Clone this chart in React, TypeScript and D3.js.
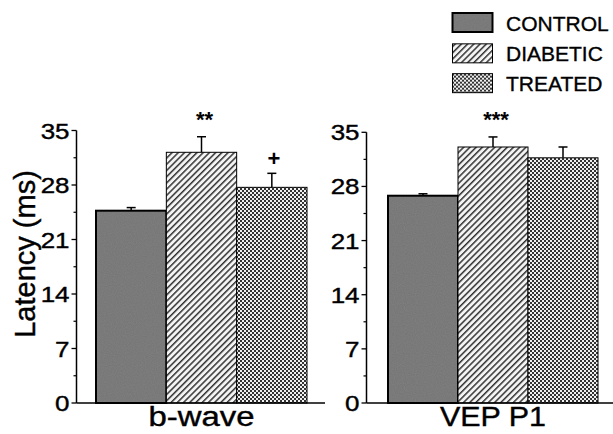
import * as d3 from "d3";

// groups and measures
const groups = ["CONTROL", "DIABETIC", "TREATED"];
const bWaveMeans = [24.7, 32.2, 27.7];
const bWaveErrors = [0.4, 2.0, 1.8];
const bWaveMarks = ["", "**", "+"];
const vepMeans = [26.8, 33.1, 31.7];
const vepErrors = [0.25, 1.3, 1.4];
const vepMarks = ["", "***", ""];
const yTickValues = [0, 7, 14, 21, 28, 35];
const yMinorValues = [3.5, 10.5, 17.5, 24.5, 31.5];

const FONT = "'Liberation Sans', Arial, Helvetica, sans-serif";
const fills = ["url(#pControl)", "url(#pDiabetic)", "url(#pTreated)"];
const strokeW = [2, 1, 1];

function Panel({ title, means, errors, marks, axisX, axisEnd, bars, yTop }) {
  const y = d3.scaleLinear().domain([0, 35]).range([403, yTop]);
  const x = d3.scaleBand().domain(groups).range(bars).padding(0);
  const cx = (g) => x(g) + x.bandwidth() / 2;

  return (
    <g>
      {groups.map((g, i) => (
        <g key={g}>
          <rect
            x={x(g)}
            y={y(means[i])}
            width={x.bandwidth()}
            height={y(0) - y(means[i])}
            fill={fills[i]}
            stroke="#000"
            strokeWidth={strokeW[i]}
          />
          <line x1={cx(g)} x2={cx(g)} y1={y(means[i])} y2={y(means[i] + errors[i])} stroke="#000" strokeWidth={1.5} />
          <line x1={cx(g) - 4.5} x2={cx(g) + 4.5} y1={y(means[i] + errors[i])} y2={y(means[i] + errors[i])} stroke="#000" strokeWidth={1.5} />
          {marks[i] && (
            <text
              x={cx(g) + (marks[i] === "+" ? 2 : 3)}
              y={y(means[i] + errors[i]) - (marks[i] === "+" ? 7 : 10)}
              textAnchor="middle"
              fontSize={marks[i] === "+" ? 22 : 22}
              fontWeight="bold"
              fontFamily={FONT}
            >
              {marks[i]}
            </text>
          )}
        </g>
      ))}

      {/* axes */}
      <line x1={axisX} x2={axisX} y1={y(35)} y2={y(0)} stroke="#000" strokeWidth={1.5} />
      <line x1={axisX} x2={axisEnd} y1={y(0)} y2={y(0)} stroke="#000" strokeWidth={1.5} />
      {yTickValues.map((t) => (
        <g key={t}>
          <line x1={axisX - 5} x2={axisX} y1={y(t)} y2={y(t)} stroke="#000" strokeWidth={1.3} />
          <text
            transform={`translate(${axisX - 7}, ${y(t) + 8}) scale(1.18, 1)`}
            textAnchor="end"
            fontSize={22}
            fontFamily={FONT}
            stroke="#000"
            strokeWidth={0.4}
          >
            {t}
          </text>
        </g>
      ))}
      {yMinorValues.map((t) => (
        <line key={t} x1={axisX - 3} x2={axisX} y1={y(t)} y2={y(t)} stroke="#000" strokeWidth={1.2} />
      ))}

      <text
        x={(bars[0] + bars[1]) / 2}
        y={426}
        textAnchor="middle"
        fontSize={27}
        fontFamily={FONT}
        textLength={106}
        lengthAdjust="spacingAndGlyphs"
        stroke="#000"
        strokeWidth={0.4}
      >
        {title}
      </text>
    </g>
  );
}

export default function App() {
  const legendY = d3.scaleBand().domain(groups).range([13, 107]).paddingInner(0);
  return (
    <svg
      width={613}
      height={434}
      style={{ position: "absolute", left: 0, top: 0, background: "#fff" }}
    >
      <defs>
        <filter id="grain">
          <feTurbulence type="fractalNoise" baseFrequency="0.9" numOctaves={2} seed={3} result="n" />
          <feColorMatrix in="n" type="matrix" values="0 0 0 0 0.4  0 0 0 0 0.4  0 0 0 0 0.4  0 0 0 0.25 0" />
        </filter>
        <pattern id="pControl" patternUnits="userSpaceOnUse" width={80} height={80}>
          <rect width={80} height={80} fill="#737373" />
          <rect width={80} height={80} filter="url(#grain)" />
        </pattern>
        <pattern id="pDiabetic" patternUnits="userSpaceOnUse" width={4.4} height={4.4} patternTransform="rotate(-45)">
          <rect width={4.4} height={4.4} fill="#f4f4f4" />
          <rect width={4.4} height={1.5} fill="#333" />
        </pattern>
        <pattern id="pTreated" patternUnits="userSpaceOnUse" width={4} height={4}>
          <rect width={4} height={4} fill="#f0f0f0" />
          <rect width={2} height={2} fill="#333" />
          <rect x={2} y={2} width={2} height={2} fill="#333" />
        </pattern>
      </defs>

      <Panel
        title="b-wave"
        means={bWaveMeans}
        errors={bWaveErrors}
        marks={bWaveMarks}
        axisX={76.5}
        axisEnd={325}
        bars={[96, 307]}
        yTop={130.5}
      />
      <Panel
        title="VEP P1"
        means={vepMeans}
        errors={vepErrors}
        marks={vepMarks}
        axisX={366.5}
        axisEnd={613}
        bars={[388, 598]}
        yTop={132.3}
      />

      {/* y axis title */}
      <text
        transform="translate(35, 254) rotate(-90)"
        textAnchor="middle"
        fontSize={29}
        fontFamily={FONT}
        stroke="#000"
        strokeWidth={0.4}
      >
        Latency (ms)
      </text>

      {/* legend */}
      {groups.map((g, i) => (
        <g key={g} transform={`translate(0, ${legendY(g) - (i === 2 ? 2 : i === 1 ? 0.5 : 0)})`}>
          <rect x={452.5} y={0} width={40} height={19} fill={fills[i]} stroke="#000" strokeWidth={strokeW[i]} />
          <text x={506} y={17.5} fontSize={21} fontFamily={FONT} stroke="#000" strokeWidth={0.35}>
            {g}
          </text>
        </g>
      ))}
    </svg>
  );
}
